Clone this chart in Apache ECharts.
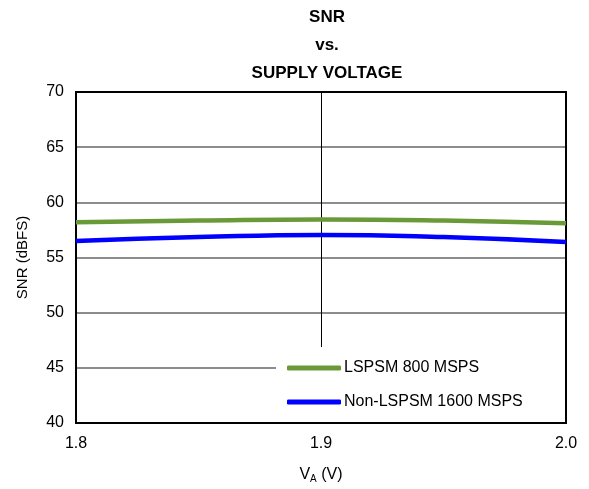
<!DOCTYPE html>
<html>
<head>
<meta charset="UTF-8">
<title>SNR vs. Supply Voltage</title>
<script src="https://cdn.jsdelivr.net/npm/echarts@6/dist/echarts.min.js"></script>
<style>
  html, body { margin: 0; padding: 0; background: #fff; }
  #chart { width: 589px; height: 489px; }
</style>
</head>
<body>
<div id="chart"></div>
<script>
// supply voltage (V)
var voltage = [1.8, 1.85, 1.9, 1.95, 2.0];
// SNR readings (dBFS)
var lspsm800 = [58.2, 58.35, 58.45, 58.35, 58.1];
var nonLspsm1600 = [56.5, 56.85, 57.05, 56.85, 56.4];
var yTicks = [40, 45, 50, 55, 60, 65, 70];

function pairs(xs, ys) {
  return xs.map(function (x, i) { return [x, ys[i]]; });
}

var font = 'Liberation Sans, Arial, sans-serif';
var chart = echarts.init(document.getElementById('chart'));

chart.setOption({
  animation: false,
  title: {
    text: 'SNR\nvs.\nSUPPLY VOLTAGE',
    left: 322,
    textAlign: 'center',
    top: -2,
    textStyle: { fontFamily: font, fontSize: 17, fontWeight: 'bold', color: '#000', lineHeight: 28 }
  },
  grid: {
    left: 76, right: 23, top: 92, bottom: 66, z: 3,
    show: true, borderColor: '#000', borderWidth: 2, backgroundColor: 'transparent'
  },
  // white box behind the legend, hiding the grid lines there
  graphic: [{
    type: 'rect', z: 1, silent: true,
    shape: { x: 276, y: 347, width: 289, height: 75 },
    style: { fill: '#fff' }
  }],
  legend: {
    left: 276, top: 347,
    orient: 'vertical',
    padding: [13, 0, 0, 11],
    itemGap: 18,
    itemWidth: 54, itemHeight: 5,
    icon: 'roundRect',
    textStyle: { fontFamily: font, fontSize: 16, color: '#000', padding: [0, 0, 0, -2] },
    data: ['LSPSM 800 MSPS', 'Non-LSPSM 1600 MSPS']
  },
  xAxis: {
    type: 'value',
    min: 1.8, max: 2.0, interval: 0.1,
    name: '{v|V}{s|A}{v| (V)}',
    nameLocation: 'middle', nameGap: 42,
    nameTextStyle: {
      rich: {
        v: { fontFamily: font, fontSize: 16, color: '#000' },
        s: { fontFamily: font, fontSize: 10, color: '#000', verticalAlign: 'bottom', padding: [9, 0, 0, 0] }
      }
    },
    axisLine: { show: false },
    axisTick: { show: false },
    axisLabel: { fontFamily: font, fontSize: 16, color: '#000', margin: 13,
      formatter: function (v) { return v.toFixed(1); } },
    splitLine: { show: true, lineStyle: { color: '#000', width: 1 } }
  },
  yAxis: {
    type: 'value',
    min: yTicks[0], max: yTicks[yTicks.length - 1], interval: 5,
    name: 'SNR (dBFS)',
    nameLocation: 'middle', nameGap: 46,
    nameTextStyle: { fontFamily: font, fontSize: 15, color: '#000' },
    axisLine: { show: false },
    axisTick: { show: false },
    axisLabel: { fontFamily: font, fontSize: 16, color: '#000', margin: 12 },
    splitLine: { show: true, lineStyle: { color: '#666', width: 1.5 } }
  },
  series: [
    {
      name: 'LSPSM 800 MSPS',
      type: 'line',
      smooth: true,
      showSymbol: false,
      data: pairs(voltage, lspsm800),
      lineStyle: { color: '#6a9a38', width: 4.5 },
      itemStyle: { color: '#6a9a38' }
    },
    {
      name: 'Non-LSPSM 1600 MSPS',
      type: 'line',
      smooth: true,
      showSymbol: false,
      data: pairs(voltage, nonLspsm1600),
      lineStyle: { color: '#0000ff', width: 4.5 },
      itemStyle: { color: '#0000ff' }
    }
  ]
});
</script>
</body>
</html>
